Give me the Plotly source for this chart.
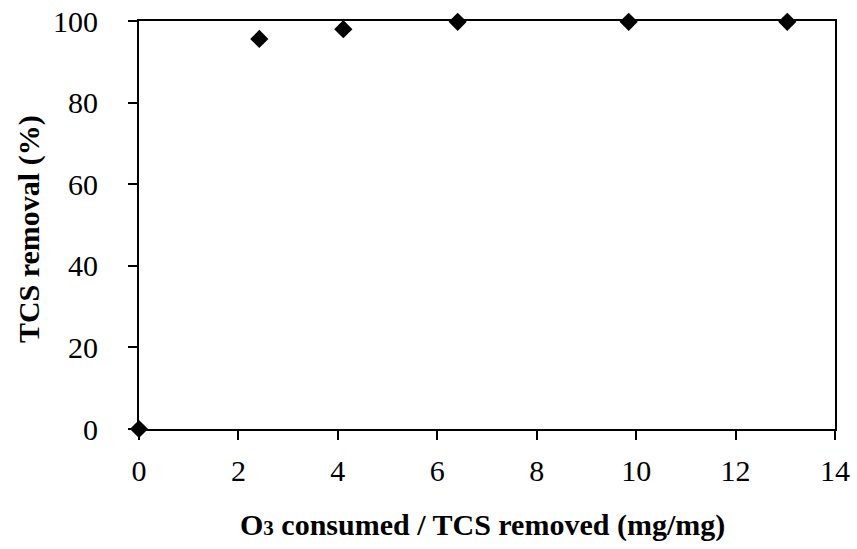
import plotly.graph_objects as go

o3_ratio = [0.0, 2.42, 4.11, 6.41, 9.85, 13.04]
tcs_removal = [0.0, 95.6, 98.0, 99.8, 99.8, 99.8]

x_ticks = [0, 2, 4, 6, 8, 10, 12, 14]
y_ticks = [0, 20, 40, 60, 80, 100]

x_title = "<b>O<span style='font-size:21px'>3</span> consumed / TCS removed (mg/mg)</b>"
y_title = "<b>TCS removal (%)</b>"

font_family = "Liberation Serif"

fig = go.Figure()
fig.add_trace(go.Scatter(
    x=o3_ratio, y=tcs_removal, mode="markers",
    marker=dict(symbol="diamond", size=14, color="black"),
    cliponaxis=False, showlegend=False,
))

fig.update_layout(
    width=857, height=549,
    margin=dict(l=139, r=22, t=21, b=120),
    paper_bgcolor="white", plot_bgcolor="white",
    font=dict(family=font_family, size=30, color="black"),
    xaxis=dict(
        range=[0, 14], tickvals=x_ticks, ticktext=[str(v) for v in x_ticks],
        ticks="outside", ticklen=9, tickwidth=2, tickcolor="black",
        showline=True, linecolor="black", linewidth=2, mirror=True,
        showgrid=False, zeroline=False, automargin=False,
        tickfont=dict(size=30), ticklabelstandoff=5,
    ),
    yaxis=dict(
        range=[0, 100], tickvals=y_ticks, ticktext=[str(v) for v in y_ticks],
        ticks="outside", ticklen=9, tickwidth=2, tickcolor="black",
        showline=True, linecolor="black", linewidth=2, mirror=True,
        showgrid=False, zeroline=False, automargin=False,
        tickfont=dict(size=30), ticklabelstandoff=24,
    ),
    annotations=[
        dict(text=x_title, xref="paper", yref="paper", x=0.493, y=0,
             xanchor="center", yanchor="middle", yshift=-96, showarrow=False,
             font=dict(size=30)),
        dict(text=y_title, xref="paper", yref="paper", x=0, y=0.49,
             xanchor="center", yanchor="middle", xshift=-110, textangle=-90,
             showarrow=False, font=dict(size=30)),
    ],
)

fig.write_html("out.html")
